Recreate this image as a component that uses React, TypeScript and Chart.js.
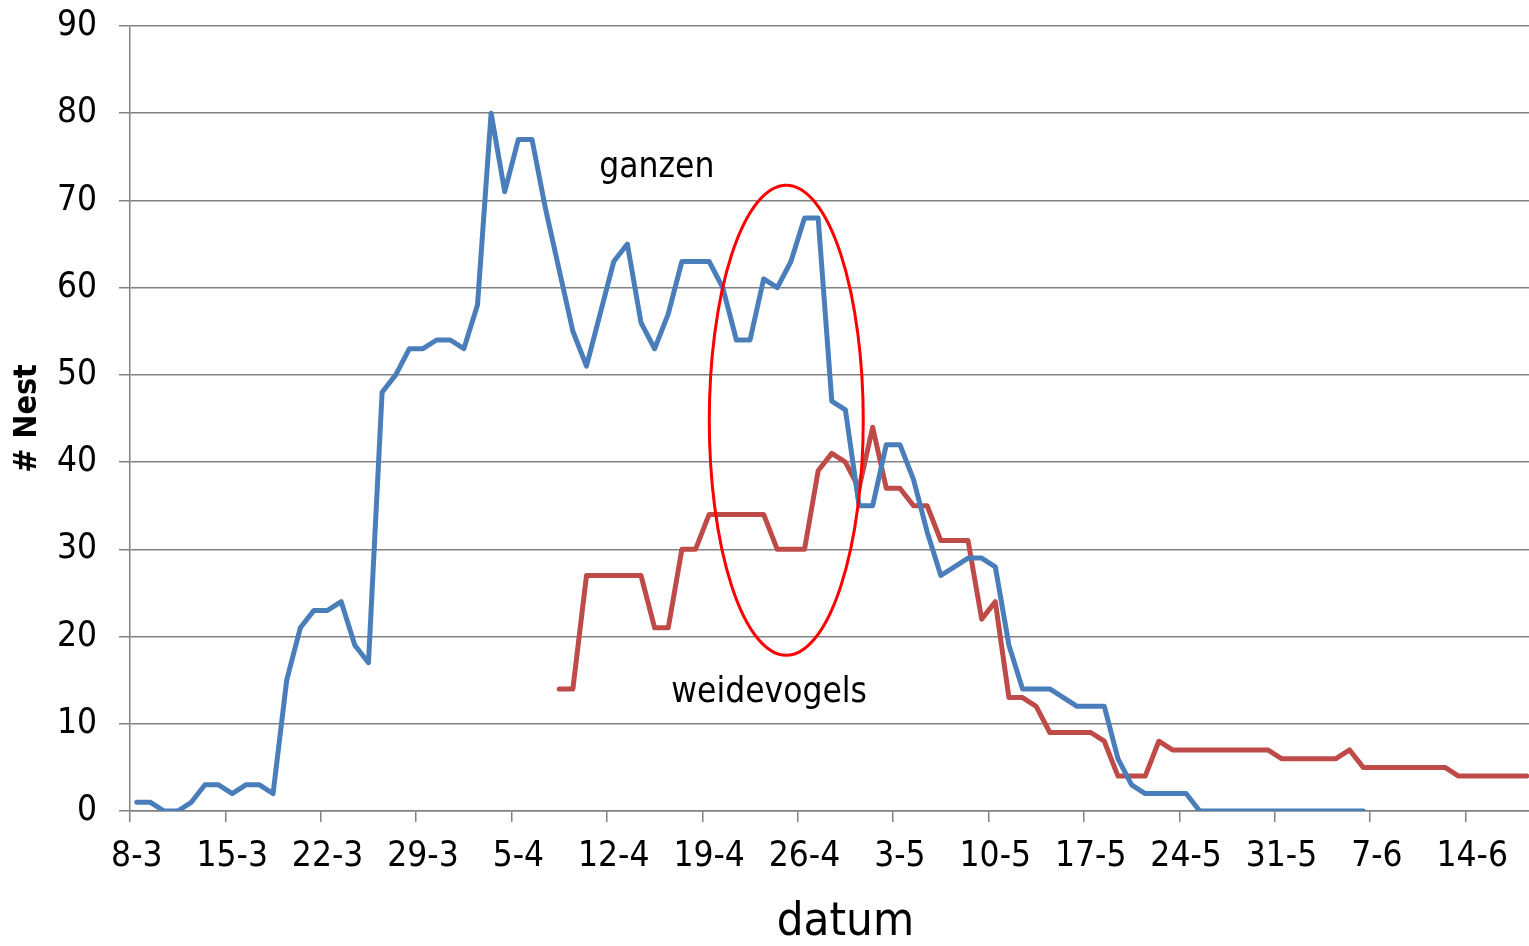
import React, { useEffect, useRef } from "react";
import { Chart, registerables } from "chart.js";

Chart.register(...registerables);

const dates: string[] = [
  "8-3", "9-3", "10-3", "11-3", "12-3", "13-3", "14-3", "15-3", "16-3", "17-3", "18-3", "19-3",
  "20-3", "21-3", "22-3", "23-3", "24-3", "25-3", "26-3", "27-3", "28-3", "29-3", "30-3", "31-3",
  "1-4", "2-4", "3-4", "4-4", "5-4", "6-4", "7-4", "8-4", "9-4", "10-4", "11-4", "12-4", "13-4",
  "14-4", "15-4", "16-4", "17-4", "18-4", "19-4", "20-4", "21-4", "22-4", "23-4", "24-4", "25-4",
  "26-4", "27-4", "28-4", "29-4", "30-4",
  "1-5", "2-5", "3-5", "4-5", "5-5", "6-5", "7-5", "8-5", "9-5", "10-5", "11-5", "12-5", "13-5",
  "14-5", "15-5", "16-5", "17-5", "18-5", "19-5", "20-5", "21-5", "22-5", "23-5", "24-5", "25-5",
  "26-5", "27-5", "28-5", "29-5", "30-5", "31-5",
  "1-6", "2-6", "3-6", "4-6", "5-6", "6-6", "7-6", "8-6", "9-6", "10-6", "11-6", "12-6", "13-6",
  "14-6", "15-6", "16-6", "17-6", "18-6", "19-6", "20-6",
];

// ganzen (geese nests)
const ganzen: (number | null)[] = [
  1, 1, 0, 0, 1, 3, 3, 2, 3, 3, 2, 15, 21, 23, 23, 24, 19, 17, 48, 50,
  53, 53, 54, 54, 53, 58, 80, 71, 77, 77, 69, 62, 55, 51, 57, 63, 65, 56, 53, 57,
  63, 63, 63, 60, 54, 54, 61, 60, 63, 68, 68, 47, 46, 35, 35, 42, 42, 38, 32, 27,
  28, 29, 29, 28, 19, 14, 14, 14, 13, 12, 12, 12, 6, 3, 2, 2, 2, 2, 0, 0,
  0, 0, 0, 0, 0, 0, 0, 0, 0, 0, 0,
];

// weidevogels (meadow bird nests)
const weidevogels: (number | null)[] = [
  null, null, null, null, null, null, null, null, null, null,
  null, null, null, null, null, null, null, null, null, null,
  null, null, null, null, null, null, null, null, null, null,
  null, 14, 14, 27, 27, 27, 27, 27, 21, 21,
  30, 30, 34, 34, 34, 34, 34, 30, 30, 30,
  39, 41, 40, 37, 44, 37, 37, 35, 35, 31,
  31, 31, 22, 24, 13, 13, 12, 9, 9, 9,
  9, 8, 4, 4, 4, 8, 7, 7, 7, 7,
  7, 7, 7, 7, 6, 6, 6, 6, 6, 7,
  5, 5, 5, 5, 5, 5, 5, 4, 4, 4,
  4, 4, 4,
];

const yTicks: number[] = [0, 10, 20, 30, 40, 50, 60, 70, 80, 90];

// annotations in data coordinates (category index, value)
const ellipseCenter = { x: 47.66, y: 44.8 };
const ellipseRadius = { x: 5.65, y: 26.95 };
const textLabels = [
  { text: "ganzen", x: 38.16, y: 72.7 },
  { text: "weidevogels", x: 46.4, y: 12.5 },
];

const FONT = '"DejaVu Sans Condensed", "DejaVu Sans", sans-serif';
const GRID = "#828282";

const annotationPlugin = {
  id: "annotations",
  afterDatasetsDraw(chart: any) {
    const { ctx, scales } = chart;
    const xs = scales.x;
    const ys = scales.y;
    const cx = xs.getPixelForValue(ellipseCenter.x);
    const cy = ys.getPixelForValue(ellipseCenter.y);
    const rx = Math.abs(xs.getPixelForValue(ellipseCenter.x + ellipseRadius.x) - cx);
    const ry = Math.abs(ys.getPixelForValue(ellipseCenter.y + ellipseRadius.y) - cy);
    ctx.save();
    ctx.font = `35px ${FONT}`;
    ctx.fillStyle = "#000000";
    ctx.textAlign = "center";
    ctx.textBaseline = "alphabetic";
    for (const t of textLabels) {
      ctx.fillText(t.text, xs.getPixelForValue(t.x), ys.getPixelForValue(t.y));
    }
    ctx.beginPath();
    ctx.ellipse(cx, cy, rx, ry, 0, 0, Math.PI * 2);
    ctx.strokeStyle = "#FF0000";
    ctx.lineWidth = 3;
    ctx.stroke();
    ctx.restore();
  },
};

export default function App() {
  const ref = useRef<HTMLCanvasElement | null>(null);

  useEffect(() => {
    const canvas = ref.current;
    if (!canvas) return;
    const chart = new Chart(canvas, {
      type: "line",
      data: {
        labels: dates,
        datasets: [
          {
            label: "ganzen",
            data: ganzen,
            borderColor: "#4A7EBB",
            backgroundColor: "#4A7EBB",
            borderWidth: 5,
            pointRadius: 0,
            pointHoverRadius: 0,
            tension: 0,
            borderCapStyle: "round",
            borderJoinStyle: "round",
            spanGaps: false,
          },
          {
            label: "weidevogels",
            data: weidevogels,
            borderColor: "#BE4B48",
            backgroundColor: "#BE4B48",
            borderWidth: 5,
            pointRadius: 0,
            pointHoverRadius: 0,
            tension: 0,
            borderCapStyle: "round",
            borderJoinStyle: "round",
            spanGaps: false,
          },
        ],
      },
      options: {
        animation: false,
        responsive: false,
        devicePixelRatio: 1,
        layout: { padding: { left: 12, top: 26, right: 0, bottom: 0 } },
        plugins: {
          legend: { display: false },
          tooltip: { enabled: false },
          title: { display: false },
        },
        scales: {
          x: {
            type: "category",
            offset: true,
            grid: {
              display: true,
              offset: true,
              drawOnChartArea: false,
              drawTicks: true,
              tickLength: 11,
              lineWidth: 1.5,
              color: (ctx: any) => (ctx.index % 7 === 0 ? GRID : "rgba(0,0,0,0)"),
            },
            border: { display: true, color: GRID, width: 1.5 },
            ticks: {
              autoSkip: false,
              maxRotation: 0,
              minRotation: 0,
              padding: 14,
              color: "#000000",
              font: { family: FONT, size: 35 },
              callback: (_v: any, i: number) => (i % 7 === 0 ? dates[i] : ""),
            },
            title: {
              display: true,
              text: "datum",
              color: "#000000",
              padding: 0,
              font: { family: FONT, size: 47, lineHeight: 1 },
            },
            afterFit: (scale: any) => {
              scale.height = 135;
            },
          },
          y: {
            min: 0,
            max: 90,
            afterBuildTicks: (scale: any) => {
              scale.ticks = yTicks.map((v) => ({ value: v }));
            },
            grid: {
              display: true,
              drawTicks: true,
              tickLength: 11,
              lineWidth: 1.5,
              color: GRID,
            },
            border: { display: true, color: GRID, width: 1.5 },
            ticks: {
              padding: 22,
              color: "#000000",
              font: { family: FONT, size: 35 },
            },
            title: {
              display: true,
              text: "# Nest",
              color: "#000000",
              padding: 0,
              font: { family: FONT, size: 32, weight: "bold", lineHeight: 1 },
            },
            afterFit: (scale: any) => {
              scale.width = 118;
              scale.paddingTop = 0;
              scale.paddingBottom = 0;
            },
          },
        },
      },
      plugins: [annotationPlugin],
    });
    return () => chart.destroy();
  }, []);

  return (
    <div
      style={{
        position: "fixed",
        left: 0,
        top: 0,
        width: "1529px",
        height: "946px",
        overflow: "hidden",
        background: "#ffffff",
      }}
    >
      <canvas
        ref={ref}
        width={1568}
        height={946}
        style={{ display: "block", width: "1568px", height: "946px" }}
      />
    </div>
  );
}
